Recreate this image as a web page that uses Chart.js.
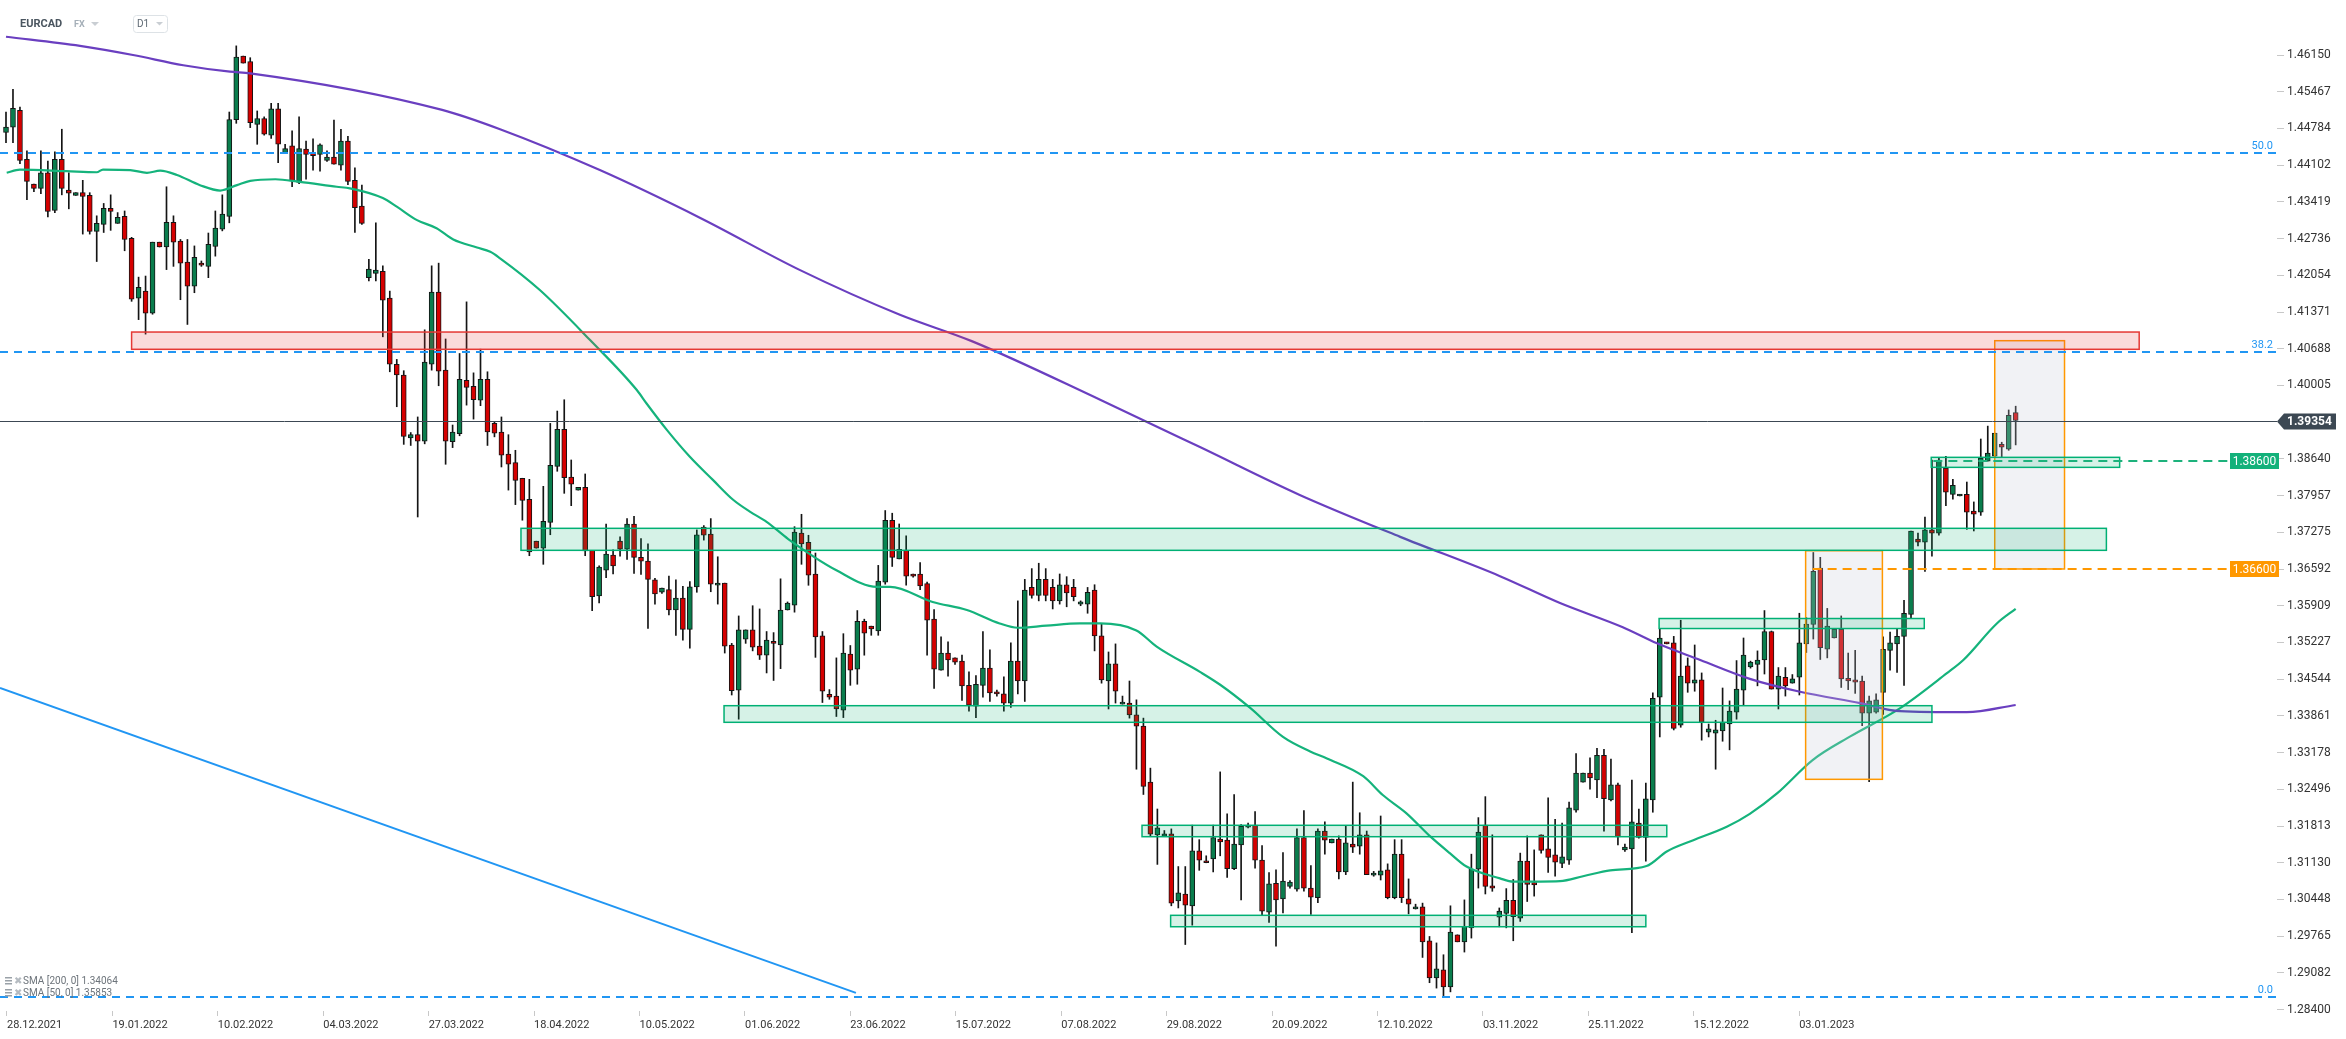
<!DOCTYPE html>
<html>
<head>
<meta charset="utf-8">
<script src="https://cdn.jsdelivr.net/npm/chart.js@4.4.1/dist/chart.umd.min.js"></script>
<style>
html,body{margin:0;padding:0;background:#fff;}
</style>
</head>
<body>
<canvas id="myChart" width="2346" height="1039"></canvas>
<script>
// EURCAD D1
var dateLabels = ['28.12.2021','19.01.2022','10.02.2022','04.03.2022','27.03.2022','18.04.2022',
    '10.05.2022','01.06.2022','23.06.2022','15.07.2022','07.08.2022','29.08.2022','20.09.2022',
    '12.10.2022','03.11.2022','25.11.2022','15.12.2022','03.01.2023'];
var priceTicks = [1.46150,1.45467,1.44784,1.44102,1.43419,1.42736,1.42054,1.41371,1.40688,1.40005,
    1.38640,1.37957,1.37275,1.36592,1.35909,1.35227,1.34544,1.33861,1.33178,1.32496,1.31813,
    1.31130,1.30448,1.29765,1.29082,1.28400];

var open = [
1.4471,1.4481,1.4512,1.4421,1.4375,1.4367,1.4396,1.4326,1.4421,1.4364,
1.4354,1.4359,1.4354,1.4287,1.4300,1.4330,1.4302,1.4315,1.4274,1.4163,
1.4176,1.4135,1.4267,1.4258,1.4304,1.4269,1.4230,1.4185,1.4228,1.4222,
1.4259,1.4291,1.4315,1.4495,1.4613,1.4603,1.4486,1.4497,1.4466,1.4515,
1.4433,1.4446,1.4378,1.4440,1.4432,1.4430,1.4419,1.4425,1.4410,1.4455,
1.4382,1.4334,1.4201,1.4209,1.4213,1.4163,1.4040,1.4020,1.3903,1.3909,
1.3897,1.4040,1.4174,1.4029,1.3896,1.3911,1.4010,1.3999,1.3973,1.4012,
1.3930,1.3914,1.3873,1.3857,1.3828,1.3789,1.3711,1.3698,1.3746,1.3850,
1.3919,1.3830,1.3806,1.3811,1.3694,1.3609,1.3657,1.3685,1.3711,1.3696,
1.3743,1.3681,1.3674,1.3639,1.3616,1.3621,1.3583,1.3605,1.3547,1.3626,
1.3737,1.3724,1.3629,1.3633,1.3518,1.3434,1.3529,1.3546,1.3516,1.3499,
1.3525,1.3518,1.3583,1.3592,1.3726,1.3709,1.3650,1.3535,1.3426,1.3423,
1.3397,1.3501,1.3473,1.3562,1.3553,1.3544,1.3635,1.3750,1.3678,1.3694,
1.3650,1.3650,1.3632,1.3566,1.3471,1.3503,1.3494,1.3488,1.3443,1.3404,
1.3443,1.3475,1.3430,1.3427,1.3410,1.3488,1.3451,1.3625,1.3610,1.3640,
1.3625,1.3600,1.3630,1.3625,1.3594,1.3594,1.3620,1.3535,1.3451,1.3483,
1.3408,1.3410,1.3388,1.3367,1.3263,1.3165,1.3162,1.3167,1.3042,1.3055,
1.3033,1.3135,1.3116,1.3120,1.3157,1.3155,1.3102,1.3146,1.3179,1.3183,
1.3118,1.3021,1.3075,1.3046,1.3069,1.3064,1.3160,1.3066,1.3048,1.3172,
1.3150,1.3157,1.3096,1.3148,1.3144,1.3165,1.3090,1.3090,1.3100,1.3048,
1.3129,1.3046,1.3027,1.3031,1.2968,1.2899,1.2914,1.2882,1.2979,1.2966,
1.2992,1.3101,1.3183,1.3070,1.3012,1.3019,1.3043,1.3010,1.3116,1.3076,
1.3165,1.3139,1.3128,1.3112,1.3118,1.3211,1.3263,1.3280,1.3267,1.3313,
1.3230,1.3258,1.3137,1.3139,1.3187,1.3160,1.3230,1.3421,1.3523,1.3522,
1.3369,1.3479,1.3447,1.3453,1.3356,1.3354,1.3358,1.3371,1.3393,1.3434,
1.3477,1.3482,1.3490,1.3543,1.3436,1.3458,1.3447,1.3458,1.3520,1.3556,
1.3661,1.3510,1.3531,1.3547,1.3456,1.3453,1.3451,1.3391,1.3393,1.3430,
1.3508,1.3520,1.3534,1.3575,1.3715,1.3709,1.3732,1.3726,1.3847,1.3798,
1.3795,1.3798,1.3767,1.3765,1.3860,1.3869,1.3891,1.3882,1.3950];
var high = [
1.4509,1.4551,1.4518,1.4437,1.4375,1.4437,1.4418,1.4435,1.4477,1.4396,
1.4359,1.4382,1.4359,1.4316,1.4339,1.4355,1.4322,1.4325,1.4276,1.4202,
1.4204,1.4267,1.4267,1.4370,1.4316,1.4272,1.4272,1.4260,1.4232,1.4284,
1.4325,1.4355,1.4509,1.4632,1.4613,1.4610,1.4511,1.4500,1.4525,1.4525,
1.4449,1.4474,1.4500,1.4455,1.4459,1.4450,1.4437,1.4494,1.4477,1.4464,
1.4405,1.4373,1.4235,1.4303,1.4223,1.4176,1.4049,1.4028,1.3913,1.3942,
1.4104,1.4223,1.4228,1.4087,1.3927,1.4060,1.4156,1.4024,1.4068,1.4026,
1.3932,1.3942,1.3909,1.3880,1.3828,1.3826,1.3711,1.3813,1.3930,1.3953,
1.3974,1.3862,1.3811,1.3836,1.3694,1.3665,1.3743,1.3695,1.3719,1.3753,
1.3757,1.3716,1.3706,1.3642,1.3624,1.3646,1.3639,1.3627,1.3636,1.3732,
1.3740,1.3753,1.3682,1.3633,1.3521,1.3572,1.3546,1.3591,1.3585,1.3543,
1.3541,1.3641,1.3598,1.3738,1.3761,1.3722,1.3689,1.3543,1.3435,1.3494,
1.3539,1.3517,1.3582,1.3566,1.3553,1.3666,1.3768,1.3763,1.3743,1.3721,
1.3650,1.3671,1.3635,1.3584,1.3533,1.3524,1.3494,1.3499,1.3468,1.3461,
1.3543,1.3509,1.3434,1.3459,1.3522,1.3600,1.3640,1.3660,1.3670,1.3660,
1.3640,1.3650,1.3645,1.3640,1.3600,1.3625,1.3630,1.3557,1.3505,1.3520,
1.3423,1.3451,1.3416,1.3382,1.3289,1.3213,1.3173,1.3176,1.3106,1.3106,
1.3183,1.3156,1.3126,1.3183,1.3282,1.3204,1.3240,1.3184,1.3187,1.3208,
1.3145,1.3095,1.3100,1.3132,1.3080,1.3176,1.3210,1.3108,1.3176,1.3189,
1.3157,1.3163,1.3181,1.3263,1.3206,1.3172,1.3097,1.3200,1.3111,1.3156,
1.3156,1.3083,1.3036,1.3038,1.2976,1.2964,1.2942,1.3033,1.2979,1.3044,
1.3129,1.3197,1.3236,1.3165,1.3029,1.3065,1.3082,1.3131,1.3163,1.3137,
1.3165,1.3234,1.3194,1.3187,1.3226,1.3316,1.3280,1.3308,1.3326,1.3324,
1.3306,1.3261,1.3148,1.3267,1.3213,1.3261,1.3429,1.3548,1.3523,1.3534,
1.3564,1.3494,1.3518,1.3466,1.3371,1.3378,1.3438,1.3414,1.3489,1.3531,
1.3488,1.3507,1.3582,1.3544,1.3476,1.3476,1.3463,1.3577,1.3569,1.3690,
1.3681,1.3586,1.3547,1.3572,1.3503,1.3508,1.3460,1.3423,1.3427,1.3533,
1.3542,1.3549,1.3601,1.3730,1.3726,1.3756,1.3862,1.3866,1.3869,1.3826,
1.3798,1.3821,1.3784,1.3901,1.3925,1.3912,1.3895,1.3955,1.3962];
var low = [
1.4452,1.4452,1.4413,1.4346,1.4361,1.4357,1.4314,1.4322,1.4355,1.4329,
1.4354,1.4282,1.4282,1.4231,1.4285,1.4289,1.4302,1.4251,1.4157,1.4123,
1.4096,1.4133,1.4258,1.4216,1.4222,1.4160,1.4114,1.4173,1.4222,1.4201,
1.4241,1.4288,1.4303,1.4488,1.4600,1.4480,1.4449,1.4466,1.4460,1.4415,
1.4433,1.4370,1.4376,1.4384,1.4401,1.4399,1.4417,1.4412,1.4401,1.4374,
1.4285,1.4300,1.4195,1.4195,1.4091,1.4026,1.3961,1.3891,1.3889,1.3756,
1.3892,1.4029,1.4000,1.3854,1.3885,1.3907,1.3964,1.3938,1.3963,1.3889,
1.3905,1.3849,1.3806,1.3779,1.3750,1.3684,1.3698,1.3668,1.3723,1.3841,
1.3800,1.3777,1.3806,1.3684,1.3582,1.3596,1.3643,1.3650,1.3683,1.3677,
1.3651,1.3649,1.3549,1.3594,1.3614,1.3574,1.3536,1.3527,1.3512,1.3616,
1.3713,1.3617,1.3594,1.3503,1.3425,1.3380,1.3521,1.3507,1.3491,1.3466,
1.3452,1.3474,1.3583,1.3579,1.3668,1.3629,1.3495,1.3411,1.3417,1.3385,
1.3383,1.3443,1.3445,1.3499,1.3536,1.3536,1.3631,1.3664,1.3678,1.3629,
1.3644,1.3621,1.3499,1.3437,1.3471,1.3460,1.3482,1.3415,1.3395,1.3383,
1.3421,1.3413,1.3423,1.3395,1.3402,1.3427,1.3413,1.3605,1.3600,1.3600,
1.3585,1.3594,1.3589,1.3600,1.3591,1.3577,1.3507,1.3447,1.3399,1.3410,
1.3408,1.3382,1.3287,1.3240,1.3162,1.3110,1.3162,1.3033,1.3029,1.2961,
1.2997,1.3099,1.3113,1.3096,1.3126,1.3086,1.3100,1.3044,1.3178,1.3103,
1.3016,1.3002,1.2958,1.3020,1.3066,1.3060,1.3060,1.3017,1.3039,1.3129,
1.3150,1.3083,1.3091,1.3132,1.3129,1.3091,1.3088,1.3081,1.3046,1.3046,
1.3039,1.3018,1.3027,1.2937,1.2890,1.2880,1.2866,1.2873,1.2966,1.2947,
1.2973,1.3066,1.3055,1.3060,1.2994,1.2992,1.2968,1.3004,1.3041,1.3051,
1.3131,1.3095,1.3088,1.3104,1.3110,1.3207,1.3263,1.3250,1.3234,1.3172,
1.3228,1.3146,1.3134,1.2983,1.3159,1.3116,1.3207,1.3347,1.3520,1.3360,
1.3365,1.3430,1.3432,1.3341,1.3347,1.3287,1.3339,1.3323,1.3380,1.3406,
1.3475,1.3442,1.3464,1.3436,1.3399,1.3423,1.3447,1.3425,1.3504,1.3529,
1.3491,1.3494,1.3531,1.3439,1.3435,1.3428,1.3368,1.3264,1.3391,1.3389,
1.3471,1.3467,1.3443,1.3567,1.3702,1.3655,1.3683,1.3722,1.3777,1.3789,
1.3795,1.3733,1.3730,1.3759,1.3860,1.3867,1.3867,1.3880,1.3890];
var close = [
1.4481,1.4516,1.4419,1.4380,1.4367,1.4396,1.4324,1.4421,1.4367,1.4358,
1.4359,1.4352,1.4287,1.4302,1.4330,1.4324,1.4313,1.4272,1.4161,1.4183,
1.4135,1.4267,1.4258,1.4304,1.4267,1.4228,1.4185,1.4239,1.4224,1.4263,
1.4293,1.4319,1.4495,1.4611,1.4600,1.4489,1.4497,1.4468,1.4515,1.4449,
1.4441,1.4381,1.4441,1.4430,1.4428,1.4448,1.4425,1.4412,1.4455,1.4380,
1.4331,1.4302,1.4217,1.4215,1.4159,1.4040,1.4020,1.3906,1.3909,1.3897,
1.4044,1.4174,1.4027,1.3897,1.3914,1.4012,1.3997,1.3974,1.4012,1.3914,
1.3912,1.3871,1.3854,1.3824,1.3787,1.3691,1.3698,1.3748,1.3852,1.3919,
1.3829,1.3817,1.3811,1.3693,1.3608,1.3663,1.3687,1.3665,1.3696,1.3743,
1.3681,1.3674,1.3640,1.3613,1.3624,1.3583,1.3605,1.3547,1.3626,1.3723,
1.3722,1.3631,1.3633,1.3516,1.3433,1.3546,1.3546,1.3514,1.3499,1.3527,
1.3521,1.3583,1.3596,1.3728,1.3706,1.3648,1.3533,1.3432,1.3421,1.3399,
1.3503,1.3471,1.3562,1.3540,1.3548,1.3637,1.3750,1.3681,1.3696,1.3646,
1.3646,1.3628,1.3564,1.3473,1.3503,1.3490,1.3486,1.3442,1.3406,1.3445,
1.3475,1.3429,1.3427,1.3410,1.3488,1.3451,1.3620,1.3610,1.3640,1.3610,
1.3600,1.3630,1.3615,1.3608,1.3598,1.3616,1.3535,1.3453,1.3483,1.3432,
1.3412,1.3388,1.3367,1.3255,1.3166,1.3178,1.3167,1.3038,1.3057,1.3034,
1.3135,1.3118,1.3113,1.3160,1.3152,1.3102,1.3148,1.3181,1.3183,1.3118,
1.3023,1.3074,1.3044,1.3079,1.3077,1.3160,1.3066,1.3049,1.3172,1.3155,
1.3157,1.3096,1.3150,1.3142,1.3165,1.3091,1.3094,1.3098,1.3048,1.3129,
1.3048,1.3036,1.3031,1.2966,1.2899,1.2916,1.2882,1.2984,1.2966,1.2995,
1.3101,1.3170,1.3069,1.3066,1.3023,1.3043,1.3013,1.3116,1.3073,1.3072,
1.3136,1.3123,1.3114,1.3124,1.3215,1.3280,1.3280,1.3271,1.3313,1.3232,
1.3258,1.3161,1.3142,1.3189,1.3160,1.3232,1.3419,1.3531,1.3520,1.3363,
1.3460,1.3447,1.3453,1.3374,1.3362,1.3360,1.3374,1.3395,1.3436,1.3499,
1.3486,1.3490,1.3543,1.3436,1.3460,1.3442,1.3455,1.3522,1.3557,1.3655,
1.3513,1.3553,1.3547,1.3455,1.3451,1.3449,1.3391,1.3414,1.3416,1.3510,
1.3522,1.3534,1.3577,1.3730,1.3709,1.3732,1.3726,1.3862,1.3802,1.3815,
1.3798,1.3765,1.3761,1.3865,1.3875,1.3912,1.3886,1.3945,1.39354];

// moving averages, read at sample bars [bar, price]
var sma200 = [[0,1.4649],[10.6,1.4632],[18.2,1.4615],[25.4,1.4596],[32.1,1.4584],[35,1.4581],
    [62.5,1.4513],[70.8,1.4477],[85.1,1.4401],[99.5,1.4312],[113.8,1.4215],[128.1,1.4132],
    [138.4,1.4083],[156.8,1.3974],[171.1,1.3886],[185.4,1.3797],[199.8,1.3719],[214.1,1.3646],
    [222.7,1.3596],[231.7,1.3551],[236.6,1.3521],[242.8,1.3490],[249.9,1.3455],[257.1,1.3431],
    [265.7,1.3410],[271.4,1.3395],[281,1.3393],[288,1.34064]];
var sma50 = [[0.1,1.4396],[2,1.4402],[8.7,1.4399],[13,1.4397],[13.9,1.4402],[17.8,1.4401],
    [20.2,1.4396],[22.1,1.4400],[24.5,1.4392],[27.8,1.4373],[30.7,1.4363],[33.1,1.4373],
    [35,1.4381],[38.6,1.4384],[42.1,1.4379],[47.4,1.4370],[49.3,1.4367],[54,1.4349],
    [56,1.4333],[58.9,1.4308],[61.7,1.4293],[64.1,1.4272],[67.5,1.4257],[69.4,1.4249],
    [70.8,1.4237],[76.5,1.4178],[83.7,1.4085],[90.4,1.3992],[91.8,1.3967],[94.7,1.3918],
    [98,1.3868],[101.3,1.3825],[104.2,1.3788],[106.6,1.3766],[109,1.3747],[112.1,1.3715],
    [119,1.3657],[124.8,1.3626],[126.7,1.3626],[132.8,1.3598],[137.7,1.3583],[142.4,1.3558],
    [145,1.3550],[149.1,1.3554],[153.9,1.3558],[156.8,1.3558],[162,1.3545],[164.9,1.3515],
    [171.1,1.3468],[174,1.3444],[178.3,1.3401],[183,1.3347],[186.9,1.3320],[189.3,1.3307],
    [194.5,1.3274],[197.3,1.3239],[200.7,1.3205],[204.1,1.3162],[206.9,1.3131],[209.3,1.3106],
    [214.1,1.3084],[216,1.3078],[222.7,1.3079],[226,1.3088],[229.9,1.3099],[235.1,1.3107],
    [238,1.3134],[241.8,1.3155],[246.6,1.3180],[249.9,1.3204],[253.8,1.3242],[258.9,1.3304],
    [264.3,1.3348],[271.4,1.3400],[278.1,1.3465],[280.5,1.3490],[285.3,1.3558],[288,1.35853]];
var trendLine = [[-0.86,1.3438],[121.8,1.2871]];

var fibNames = ['50.0','38.2','0.0'];
var fibPrices = [1.4432,1.4063,1.2864];
var lastPrice = 1.39354;
var levelNames = ['1.38600','1.36600'];
var levelPrices = [1.386,1.366];
var levelFrom = [276.2,258.9];

// zones: [fromBar, toBar, lowPrice, highPrice]
var resistanceZones = [[18.0,305.7,1.40678,1.40999]];
var supportZones = [[73.8,301.0,1.36940,1.37349],[102.9,276.0,1.33742,1.34051],
    [162.8,238.0,1.31615,1.31827],[166.9,235.0,1.29941,1.30153],[236.9,274.9,1.35486,1.35672],
    [275.9,302.9,1.38483,1.38669]];
var rangeBoxes = [[257.9,268.9,1.32682,1.36933],[285.0,295.0,1.36593,1.40838]];

var GREEN = '#0a7d4d', RED = '#d50000', INK = '#141414';
var FONT = 'Roboto, "Liberation Sans", sans-serif';

var bars = close.map(function(c, i){ return i; });

function hLine(ctx, y, x0, x1, color, width, dash){
    ctx.save();
    ctx.strokeStyle = color; ctx.lineWidth = width; ctx.setLineDash(dash || []);
    ctx.beginPath(); ctx.moveTo(x0, y); ctx.lineTo(x1, y); ctx.stroke();
    ctx.restore();
}

function box(ctx, x, y, b, fill, stroke){
    var x0 = x.getPixelForValue(b[0]), x1 = x.getPixelForValue(b[1]);
    var y0 = y.getPixelForValue(b[3]), y1 = y.getPixelForValue(b[2]);
    ctx.fillStyle = fill; ctx.fillRect(x0, y0, x1 - x0, y1 - y0);
    ctx.strokeStyle = stroke; ctx.lineWidth = 1.5;
    ctx.strokeRect(x0, y0, x1 - x0, y1 - y0);
}

function tri(ctx, x, y, w, color){
    ctx.fillStyle = color;
    ctx.beginPath(); ctx.moveTo(x, y); ctx.lineTo(x + w, y); ctx.lineTo(x + w/2, y + w/2); ctx.closePath(); ctx.fill();
}

var overlay = {
    id: 'overlay',
    afterDatasetsDraw: function(chart){
        var ctx = chart.ctx, a = chart.chartArea, x = chart.scales.x, y = chart.scales.y;
        ctx.save();
        ctx.beginPath(); ctx.rect(a.left, a.top, a.right - a.left, a.bottom - a.top); ctx.clip();

        rangeBoxes.forEach(function(b){ box(ctx, x, y, b, 'rgba(200,205,215,0.25)', '#ff9800'); });
        resistanceZones.forEach(function(b){ box(ctx, x, y, b, 'rgba(229,57,53,0.18)', '#e53935'); });
        supportZones.forEach(function(b){ box(ctx, x, y, b, 'rgba(0,177,107,0.16)', '#00b074'); });

        fibPrices.forEach(function(p){
            hLine(ctx, Math.round(y.getPixelForValue(p)), a.left, a.right, '#2196f3', 2, [8, 6]);
        });
        hLine(ctx, Math.round(y.getPixelForValue(lastPrice)) + 0.5, a.left, a.right, '#3c4853', 1);

        var lx = a.right - 47;
        var colors = ['#1db27c', '#ff9800'];
        levelPrices.forEach(function(p, k){
            hLine(ctx, Math.round(y.getPixelForValue(p)), x.getPixelForValue(levelFrom[k]), lx, colors[k], 2, [9, 6]);
        });
        ctx.restore();
    },
    afterDraw: function(chart){
        var ctx = chart.ctx, a = chart.chartArea, y = chart.scales.y;
        ctx.save();
        // fibo labels
        ctx.font = '11px ' + FONT; ctx.fillStyle = '#2196f3'; ctx.textAlign = 'right'; ctx.textBaseline = 'alphabetic';
        fibNames.forEach(function(n, k){
            var py = Math.round(y.getPixelForValue(fibPrices[k]));
            ctx.fillText(n, a.right - 4, py - 4);
        });
        // level labels
        var colors = ['#13b17a', '#ff9800'];
        ctx.textAlign = 'center'; ctx.textBaseline = 'middle'; ctx.font = '12px ' + FONT;
        levelPrices.forEach(function(p, k){
            var py = Math.round(y.getPixelForValue(p));
            ctx.fillStyle = colors[k];
            ctx.fillRect(a.right - 47, py - 8, 49, 16);
            ctx.fillStyle = '#fff';
            ctx.fillText(levelNames[k], a.right - 22.5, py + 0.5);
        });
        // last price tag
        var ly = Math.round(y.getPixelForValue(lastPrice)) + 0.5;
        ctx.fillStyle = '#3c4853';
        ctx.beginPath();
        ctx.moveTo(a.right, ly); ctx.lineTo(a.right + 7, ly - 8); ctx.lineTo(a.right + 59, ly - 8);
        ctx.lineTo(a.right + 59, ly + 8); ctx.lineTo(a.right + 7, ly + 8); ctx.closePath(); ctx.fill();
        ctx.fillStyle = '#fff'; ctx.font = 'bold 12px ' + FONT; ctx.textAlign = 'left';
        ctx.fillText(lastPrice.toFixed(5), a.right + 10, ly + 0.5);

        // header
        ctx.textAlign = 'left'; ctx.textBaseline = 'middle';
        ctx.font = 'bold 11px ' + FONT; ctx.fillStyle = '#4b5660'; ctx.fillText('EURCAD', 20, 24);
        ctx.font = 'bold 9px ' + FONT; ctx.fillStyle = '#a5afb8'; ctx.fillText('FX', 74, 24.5);
        tri(ctx, 91, 22, 8, '#c9ced3');
        ctx.strokeStyle = '#dde2e6'; ctx.lineWidth = 1;
        ctx.beginPath(); ctx.roundRect(133.5, 15.5, 34, 17, 3); ctx.stroke();
        ctx.font = '10px ' + FONT; ctx.fillStyle = '#5d6872'; ctx.fillText('D1', 137, 24.5);
        tri(ctx, 156, 22, 7, '#c9ced3');

        // indicator legend
        var rows = ['SMA [200, 0] 1.34064', 'SMA [50, 0] 1.35853'];
        ctx.font = '10px ' + FONT;
        rows.forEach(function(t, k){
            var ry = 981 + k * 12;
            ctx.fillStyle = '#9aa1a8';
            ctx.fillRect(5, ry - 4, 7, 1.5); ctx.fillRect(5, ry - 1, 7, 1.5); ctx.fillRect(5, ry + 2, 7, 1.5);
            ctx.fillStyle = '#b5bbc1'; ctx.fillText('\u2716', 14, ry);
            ctx.fillStyle = '#6d747b'; ctx.fillText(t, 23, ry);
        });
        ctx.restore();
    }
};

var ctx = document.getElementById('myChart').getContext('2d');
var chart = new Chart(ctx, {
    type: 'bar',
    data: {
        datasets: [
            {
                type: 'line', label: 'SMA 200', order: 0,
                data: sma200.map(function(p){ return {x: p[0], y: p[1]}; }),
                borderColor: '#6a3fc0', borderWidth: 2.2, pointRadius: 0, cubicInterpolationMode: 'monotone'
            },
            {
                type: 'line', label: 'SMA 50', order: 0,
                data: sma50.map(function(p){ return {x: p[0], y: p[1]}; }),
                borderColor: '#15b37c', borderWidth: 2.2, pointRadius: 0, cubicInterpolationMode: 'monotone'
            },
            {
                type: 'line', label: 'trend', order: 0,
                data: trendLine.map(function(p){ return {x: p[0], y: p[1]}; }),
                borderColor: '#2196f3', borderWidth: 2, pointRadius: 0
            },
            {
                label: 'body', order: 1, grouped: false, barThickness: 5, minBarLength: 2,
                data: bars.map(function(i){ return {x: i, y: [open[i], close[i]]}; }),
                backgroundColor: function(c){ var i = c.dataIndex; return close[i] >= open[i] ? GREEN : RED; },
                borderColor: INK, borderWidth: 1, borderSkipped: false
            },
            {
                label: 'wick', order: 2, grouped: false, barThickness: 1,
                data: bars.map(function(i){ return {x: i, y: [low[i], high[i]]}; }),
                backgroundColor: INK
            }
        ]
    },
    options: {
        responsive: false,
        animation: false,
        layout: {padding: 0},
        plugins: {legend: {display: false}, tooltip: {enabled: false}},
        scales: {
            x: {
                type: 'linear', position: 'bottom', min: -0.86, max: 325.45, offset: false,
                afterBuildTicks: function(s){
                    s.ticks = dateLabels.map(function(l, k){ return {value: 0.14 + k * 15.108}; });
                },
                afterFit: function(s){ s.height = 28; s.paddingLeft = 0; s.paddingRight = 0; },
                ticks: {
                    callback: function(v, k){ return dateLabels[k]; },
                    align: 'start', maxRotation: 0, autoSkip: false, padding: 3,
                    color: '#333', font: {family: FONT, size: 11}
                },
                grid: {drawOnChartArea: false, offset: false, tickLength: 5, color: '#c8c8c8'},
                border: {display: false}
            },
            y: {
                type: 'linear', position: 'right', min: 1.28374, max: 1.47173,
                afterBuildTicks: function(s){
                    s.ticks = priceTicks.map(function(v){ return {value: v}; });
                },
                afterFit: function(s){ s.width = 69; s.paddingTop = 0; s.paddingBottom = 0; },
                ticks: {
                    callback: function(v){ return v.toFixed(5); },
                    padding: 3, color: '#333', font: {family: FONT, size: 12}
                },
                grid: {drawOnChartArea: false, tickLength: 7, color: '#c8c8c8'},
                border: {display: false}
            }
        }
    },
    plugins: [overlay]
});
</script>
</body>
</html>
